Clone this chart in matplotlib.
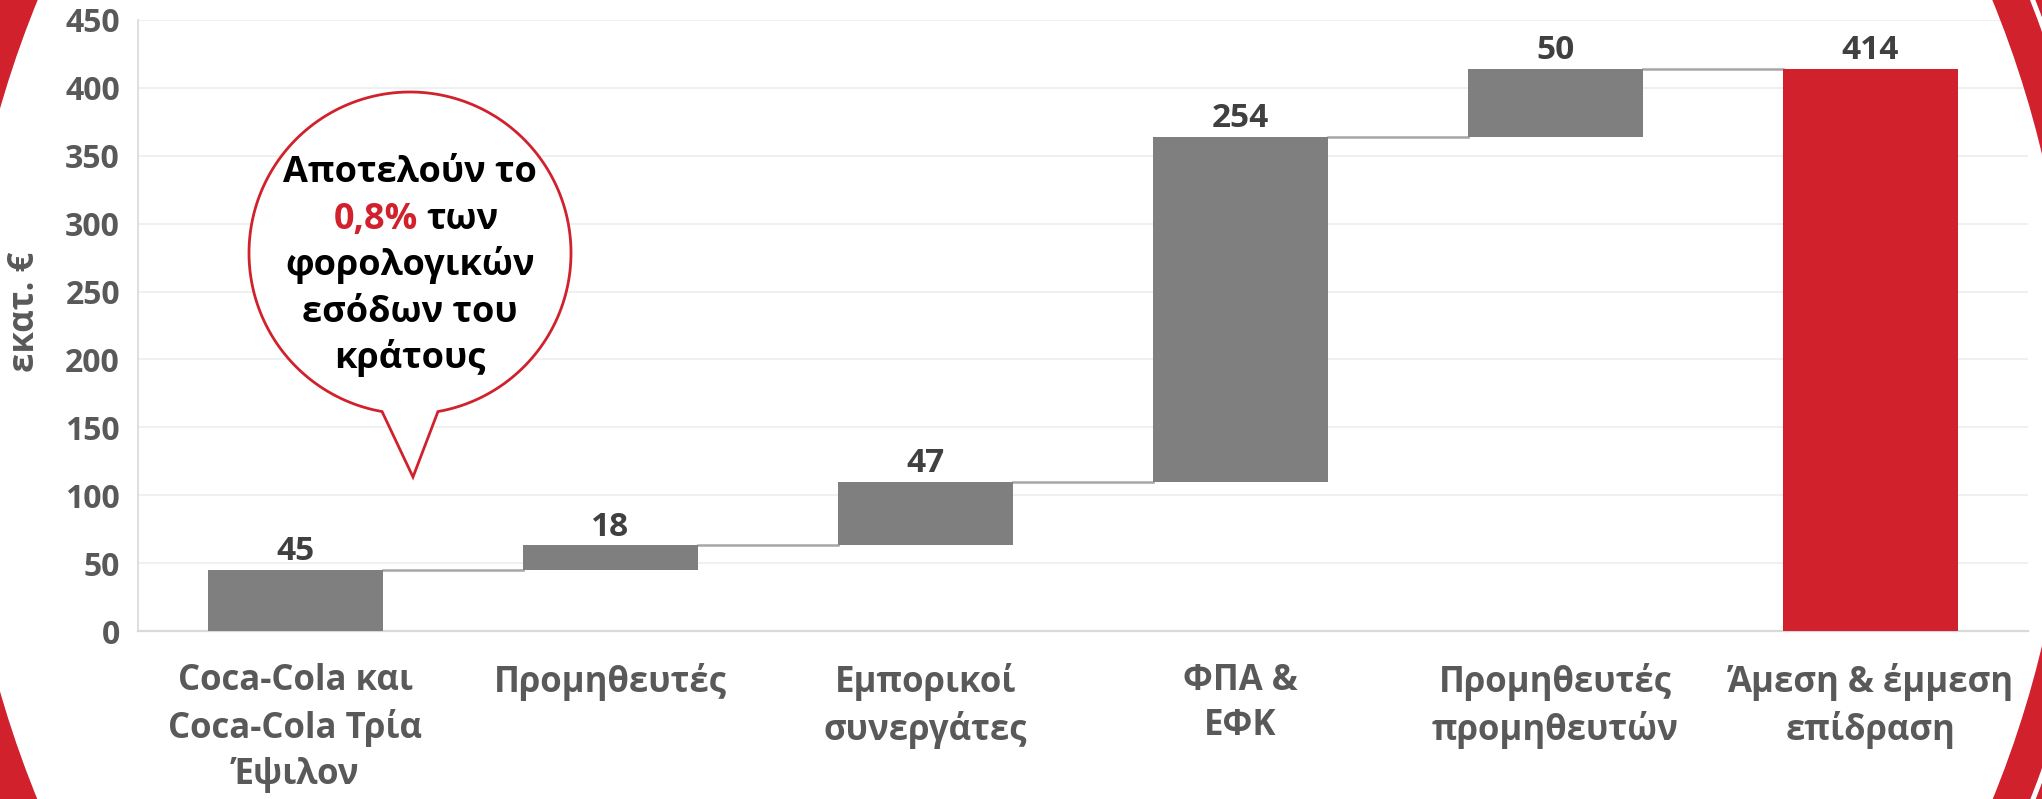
import numpy as np
import matplotlib.pyplot as plt
from matplotlib.patches import Wedge, Polygon

plt.rcParams['font.family'] = ['Open Sans', 'DejaVu Sans']
plt.rcParams['font.weight'] = 'bold'

# data (εκατ. €)
categories = ['Coca-Cola και\nCoca-Cola Τρία\nΈψιλον', 'Προμηθευτές',
              'Εμπορικοί\nσυνεργάτες', 'ΦΠΑ &\nΕΦΚ',
              'Προμηθευτές\nπρομηθευτών', 'Άμεση & έμμεση\nεπίδραση']
steps = [45, 18, 47, 254, 50]
total = 414
yticks = [0, 50, 100, 150, 200, 250, 300, 350, 400, 450]

GREY = '#7f7f7f'
RED = '#d0212d'
TXT = '#595959'

W, H = 2042, 799
fig = plt.figure(figsize=(W / 100, H / 100), dpi=100)

# main chart
ax = fig.add_axes([138 / W, 1 - 631 / H, (2028 - 138) / W, (631 - 20) / H])
ax.patch.set_alpha(0)

bottoms = np.concatenate([[0], np.cumsum(steps)[:-1]])
x = np.arange(len(categories))
bw = 0.553
ax.bar(x[:-1], steps, bottom=bottoms, width=bw, color=GREY, zorder=3)
ax.bar(x[-1], total, width=bw, color=RED, zorder=3)

# connectors between bars
levels = np.cumsum(steps)
for i, lv in enumerate(levels):
    ax.plot([i + bw / 2, i + 1 - bw / 2], [lv, lv], color='#a6a6a6', lw=1.8, zorder=2)

# value labels
tops = list(levels) + [total]
vals = steps + [total]
for i, (t, v) in enumerate(zip(tops, vals)):
    ax.annotate(str(v), (i, t), xytext=(0, 7), textcoords='offset points',
                ha='center', va='baseline', fontsize=24, color='#404040',
                fontweight='bold')

ax.set_xlim(-0.5, len(categories) - 0.5)
ax.set_ylim(0, 450)
ax.set_yticks(yticks)
ax.set_xticks(x)
ax.set_xticklabels(categories)
for lbl in ax.get_xticklabels():
    lbl.set_linespacing(1.35)
ax.tick_params(axis='y', length=0, pad=13, labelsize=23, labelcolor=TXT)
ax.tick_params(axis='x', length=0, pad=23, labelsize=25, labelcolor=TXT)
ax.grid(axis='y', color='#eeeeee', lw=1.2, zorder=0)
for s in ['top', 'right']:
    ax.spines[s].set_visible(False)
ax.spines['bottom'].set_color('#d9d9d9')
ax.spines['bottom'].set_linewidth(1.6)
ax.spines['left'].set_color('#d9d9d9')
ax.spines['left'].set_linewidth(1.2)

fig.text(25 / W, 1 - 312 / H, 'εκατ. €', rotation=90, ha='center', va='center',
         fontsize=25, color=TXT, fontweight='bold')

# overlay in pixel coords: slide ring and callout bubble
ov = fig.add_axes([0, 0, 1, 1])
ov.set_xlim(0, W)
ov.set_ylim(H, 0)
ov.axis('off')
ov.patch.set_visible(False)

ov.add_patch(Wedge((1015, 400), 1091, 0, 360, width=35, color=RED, lw=0))
ov.add_patch(Wedge((1015, 400), 1400, 0, 360, width=304, color=RED, lw=0))

cx, cy, r = 410, 253, 161
ang = np.radians(np.linspace(100, 440, 200))
pts = np.column_stack([cx + r * np.cos(ang), cy + r * np.sin(ang)])
pts = np.vstack([pts, [[413, 477]]])
ov.add_patch(Polygon(pts, closed=True, facecolor='white', edgecolor=RED, lw=2, zorder=5))

bfs = 26
ov.text(cx, 182, 'Αποτελούν το', ha='center', va='baseline', fontsize=bfs, color='black', zorder=6)
ov.text(418, 229, '0,8%', ha='right', va='baseline', fontsize=bfs, color=RED, zorder=6)
ov.text(426, 229, 'των', ha='left', va='baseline', fontsize=bfs, color='black', zorder=6)
ov.text(cx, 275, 'φορολογικών', ha='center', va='baseline', fontsize=bfs, color='black', zorder=6)
ov.text(cx, 322, 'εσόδων του', ha='center', va='baseline', fontsize=bfs, color='black', zorder=6)
ov.text(cx, 368, 'κράτους', ha='center', va='baseline', fontsize=bfs, color='black', zorder=6)

fig.savefig('out.png', dpi=100)
